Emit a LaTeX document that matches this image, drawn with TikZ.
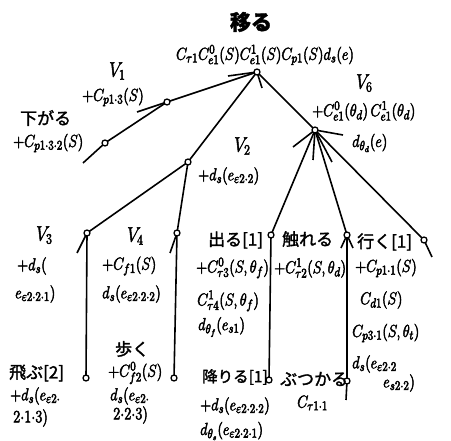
\documentclass[tikz,border=0pt]{standalone}
\usepackage{graphicx}
\usepackage{fontspec}
\newfontfamily\jp{Noto Sans CJK JP}
\newcommand{\tl}[1]{\scalebox{1}[1.2]{#1}}
\newcommand{\heavy}{\special{pdf:code 2 Tr}}
\begin{document}
\begin{tikzpicture}[x=1pt,y=-1pt]
\tikzset{
  dot/.style={circle,draw,fill=white,inner sep=0pt,minimum size=6pt,line width=1.3pt},
  edge/.style={line width=1.6pt},
  lab/.style={inner sep=0pt,anchor=west,line width=0.45pt,font=\fontsize{15}{17}\selectfont\heavy},
  vlab/.style={lab,font=\fontsize{18}{20}\selectfont\heavy},
  jlab/.style={inner sep=0pt,anchor=west,line width=0.3pt,font=\fontsize{17}{19}\selectfont\jp\heavy}
}
\useasboundingbox (0,0) rectangle (451,441);
% connectors first (nodes drawn on top)
\coordinate (r) at (257,72);
\coordinate (v1) at (167,102);
\coordinate (sg) at (105,143);
\coordinate (v2) at (188,162);
\coordinate (v3) at (87,233);
\coordinate (v4) at (177,233);
\coordinate (v6) at (315,130);
\coordinate (tb) at (86,378);
\coordinate (ar) at (174,378);
\coordinate (de) at (271,235);
\coordinate (fu) at (347,235);
\coordinate (ik) at (424,240);
\coordinate (or) at (269,380);
\coordinate (bu) at (347,381);
% tails and stubs
\coordinate (v1t) at (137,112);
\coordinate (sgt) at (83,163);
\coordinate (v3t) at (77,253);
\coordinate (v4t) at (170,253);
\coordinate (ikt) at (432,257);
\coordinate (but) at (346,400);
\coordinate (rs1) at (228,76);
\coordinate (rs2) at (262,88);
\coordinate (v6s1) at (293,147);
\coordinate (v6s2) at (343,135);
\coordinate (v6s3) at (313,160);
\coordinate (v6s4) at (332,162);
\coordinate (fus1) at (341,248);
\coordinate (fus2) at (353,248);

\draw[edge] (r) -- (v1) -- (v1t);
\draw[edge] (v1) -- (sg) -- (sgt);
\draw[edge] (r) -- (v2);
\draw[edge] (v2) -- (v3) -- (v3t);
\draw[edge] (v2) -- (v4) -- (v4t);
\draw[edge] (r) -- (v6);
\draw[edge] (r) -- (rs1);
\draw[edge] (r) -- (rs2);
\draw[edge] (v3) -- (tb);
\draw[edge] (v4) -- (ar);
\draw[edge] (v6) -- (de);
\draw[edge] (v6) -- (fu);
\draw[edge] (v6) -- (ik) -- (ikt);
\draw[edge] (v6) -- (v6s1);
\draw[edge] (v6) -- (v6s2);
\draw[edge] (v6) -- (v6s3);
\draw[edge] (v6) -- (v6s4);
\draw[edge] (de) -- (or);
\draw[edge] (fu) -- (bu) -- (but);
\draw[edge] (fu) -- (fus1);
\draw[edge] (fu) -- (fus2);

\foreach \n in {r,v1,sg,v2,v3,v4,v6,tb,ar,de,fu,ik,or,bu}
  \node[dot] (d\n) at (\n) {};

% labels
\node[inner sep=0pt,line width=0.4pt,font=\fontsize{21}{23}\selectfont\jp\bfseries\heavy] (t0) at (251,22) {移る};
\node[lab,anchor=center,font=\fontsize{15.5}{17}\selectfont\heavy] (f0) at (265,55) {\tl{$C_{\tau1}C^{0}_{e1}(S)C^{1}_{e1}(S)C_{p1}(S)d_s(e)$}};

\node[vlab] (l1) at (109,71) {\tl{$V_1$}};
\node[lab] (l1a) at (82,97) {\tl{$+C_{p1{\cdot}3}(S)$}};
\node[jlab] (l1b) at (20,118) {下がる};
\node[lab] (l1c) at (13,143) {\tl{$+C_{p1{\cdot}3{\cdot}2}(S)$}};

\node[vlab] (l2) at (234,146) {\tl{$V_2$}};
\node[lab] (l2a) at (198,176) {\tl{$+d_s(e_{\varepsilon2{\cdot}2})$}};

\node[vlab] (l6) at (356,83) {\tl{$V_6$}};
\node[lab] (l6a) at (312,111) {\tl{$+C^{0}_{e1}(\theta_d)\,C^{1}_{e1}(\theta_d)$}};
\node[lab] (l6b) at (352,143) {\tl{$d_{\theta_d}(e)$}};

\node[vlab] (l3) at (36,235) {\tl{$V_3$}};
\node[lab] (l3a) at (17,266) {\tl{$+d_s($}};
\node[lab] (l3b) at (15,294) {\tl{$e_{\varepsilon2{\cdot}2{\cdot}1})$}};

\node[vlab] (l4) at (127,236) {\tl{$V_4$}};
\node[lab] (l4a) at (102,266) {\tl{$+C_{f1}(S)$}};
\node[lab] (l4b) at (102,294) {\tl{$d_s(e_{\varepsilon2{\cdot}2{\cdot}2})$}};

\node[jlab] (l5) at (208,240) {出る[1]};
\node[lab] (l5a) at (196,268) {\tl{$+C^{0}_{\tau3}(S,\theta_f)$}};
\node[lab] (l5b) at (197,301) {\tl{$C^{1}_{\tau4}(S,\theta_f)$}};
\node[lab] (l5c) at (198,327) {\tl{$d_{\theta_f}(e_{s1})$}};

\node[jlab] (l7) at (282,239) {触れる};
\node[lab] (l7a) at (274,268) {\tl{$+C^{1}_{\tau2}(S,\theta_d)$}};

\node[jlab] (l8) at (357,242) {行く[1]};
\node[lab] (l8a) at (355,268) {\tl{$+C_{p1{\cdot}1}(S)$}};
\node[lab] (l8b) at (360,300) {\tl{$C_{d1}(S)$}};
\node[lab] (l8c) at (352,333) {\tl{$C_{p3{\cdot}1}(S,\theta_t)$}};
\node[lab] (l8d) at (352,364) {\tl{$d_s(e_{\varepsilon2{\cdot}2}$}};
\node[lab] (l8e) at (383,383) {\tl{$e_{s2{\cdot}2})$}};

\node[jlab] (l9) at (280,379) {ぶつかる};
\node[lab] (l9a) at (297,403) {\tl{$C_{\tau1{\cdot}1}$}};

\node[jlab,font=\fontsize{15.5}{18}\selectfont\jp\heavy] (l10) at (202,377) {降りる[1]};
\node[lab] (l10a) at (200,406) {\tl{$+d_s(e_{\varepsilon2{\cdot}2{\cdot}2})$}};
\node[lab] (l10b) at (200,431) {\tl{$d_{\theta_s}(e_{\varepsilon2{\cdot}2{\cdot}1})$}};

\node[jlab] (l11) at (9,373) {飛ぶ[2]};
\node[lab] (l11a) at (10,396) {\tl{$+d_s(e_{\varepsilon2{\cdot}}$}};
\node[lab] (l11b) at (13,418) {\tl{$2{\cdot}1{\cdot}3)$}};

\node[jlab] (l12) at (115,349) {歩く};
\node[lab] (l12a) at (108,373) {\tl{$+C^{0}_{f2}(S)$}};
\node[lab] (l12b) at (110,396) {\tl{$d_s(e_{\varepsilon2{\cdot}}$}};
\node[lab] (l12c) at (113,415) {\tl{$2{\cdot}2{\cdot}3)$}};
\end{tikzpicture}
\end{document}
